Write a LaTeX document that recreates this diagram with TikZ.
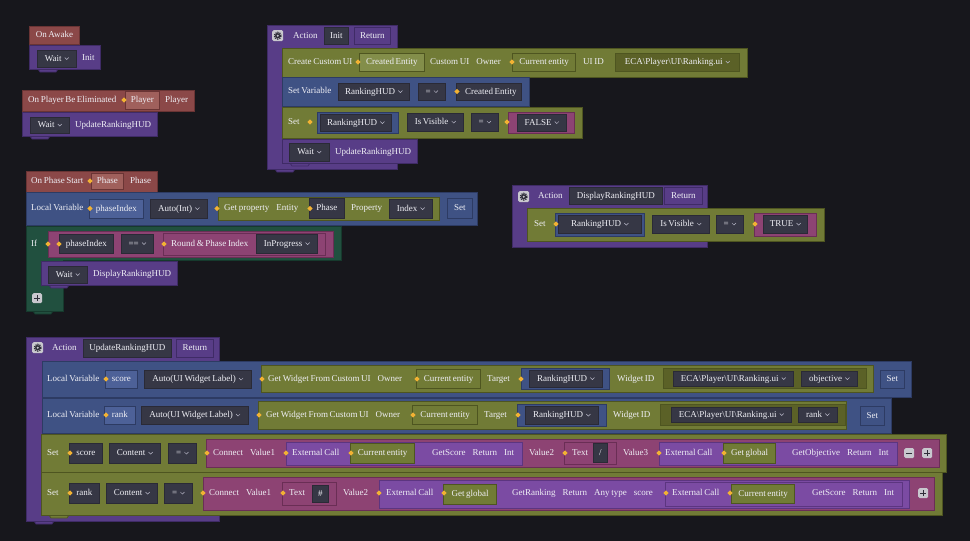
\documentclass[tikz,border=0pt]{standalone}
\usepackage{fontspec}
\setmainfont{Liberation Serif}
\usepackage{tikz}

\definecolor{bgc}{HTML}{17171C}
\definecolor{txtc}{HTML}{EFEFF5}
\definecolor{ddc}{HTML}{B8B8C8}
\definecolor{evc}{HTML}{8B4848}
\definecolor{evb}{HTML}{6A3434}
\definecolor{evlc}{HTML}{A0605C}
\definecolor{purc}{HTML}{583D87}
\definecolor{purb}{HTML}{3F2B66}
\definecolor{dkc}{HTML}{363745}
\definecolor{dkb}{HTML}{2A2A36}
\definecolor{olvc}{HTML}{717B36}
\definecolor{olvb}{HTML}{4E5520}
\definecolor{olvlc}{HTML}{838E4A}
\definecolor{olvdc}{HTML}{5B6127}
\definecolor{bluc}{HTML}{3F5284}
\definecolor{blub}{HTML}{2D3B63}
\definecolor{blulc}{HTML}{4D6198}
\definecolor{grnc}{HTML}{21503F}
\definecolor{grnb}{HTML}{163A2D}
\definecolor{magc}{HTML}{8D4373}
\definecolor{magb}{HTML}{6A2E55}
\definecolor{xcc}{HTML}{7B4BA3}
\definecolor{xcb}{HTML}{5C3580}
\definecolor{pinc}{HTML}{F2B233}
\definecolor{icoc}{HTML}{C8C8CE}
\definecolor{icod}{HTML}{2E2E38}

\newcommand\lab{\fontsize{9}{10}\selectfont\spaceskip=1.6pt\relax}
\newcommand\gap{\hspace{7pt}}
\newcommand\ddn{\hspace{3pt}\tikz[baseline=0pt]\draw[line width=.5pt,ddc] (0,3.6pt)--(2pt,1.6pt)--(4pt,3.6pt);}
\newcommand\bx[7]{\node[#1,anchor=north west,minimum width={(#5)-(#3)},minimum height={(#6)-(#4)}] (#2) at (#3,#4) {#7};}
\newcommand\lbl[4]{\node[txt] (#1) at (#2,#3) {#4};}
\newcommand\pin[2]{\fill[pinc] (#1,#2) +(-2.6,0) -- +(0,-2.6) -- +(2.6,0) -- +(0,2.6) -- cycle;}
\newcommand\btab[3]{\filldraw[#1] (#2,#3) -- ++(2,3) -- ++(16,0) -- ++(2,-3) -- cycle;}
\newcommand\gearico[3]{\node[ico,minimum size=11pt] (#1) at (#2,#3) {};
  \fill[icod] (#1.center) circle (2.6pt);
  \draw[icod,line width=1.4pt,dash pattern=on 1.1pt off 1pt] (#1.center) circle (3.3pt);
  \fill[icoc] (#1.center) circle (1.1pt);}
\newcommand\plusico[3]{\node[ico,minimum size=10pt] (#1) at (#2,#3) {};
  \draw[icod,line width=1.4pt] ([xshift=-3pt]#1.center) -- ([xshift=3pt]#1.center)
    ([yshift=-3pt]#1.center) -- ([yshift=3pt]#1.center);}
\newcommand\minusico[3]{\node[ico,minimum size=10pt] (#1) at (#2,#3) {};
  \draw[icod,line width=1.4pt] ([xshift=-3pt]#1.center) -- ([xshift=3pt]#1.center);}

\begin{document}
\begin{tikzpicture}[
  x=1pt,y=-1pt,
  bb/.style={inner sep=0,line width=.8pt,text=txtc,font=\lab,text height=6.3pt,text depth=1.8pt},
  txt/.style={anchor=west,inner sep=0,text=txtc,font=\lab,text height=6.3pt,text depth=1.8pt},
  ev/.style={bb,fill=evc,draw=evb},
  evl/.style={bb,fill=evlc,draw=evb},
  pur/.style={bb,fill=purc,draw=purb},
  fld/.style={bb,fill=dkc,draw=dkb},
  olv/.style={bb,fill=olvc,draw=olvb},
  olvk/.style={bb,fill=olvc,draw=olvb,line width=1.3pt},
  olvl/.style={bb,fill=olvlc,draw=olvb},
  olvd/.style={bb,fill=olvdc,draw=olvb},
  blu/.style={bb,fill=bluc,draw=blub},
  blul/.style={bb,fill=blulc,draw=blub},
  grn/.style={line width=.8pt,fill=grnc,draw=grnb},
  mag/.style={bb,fill=magc,draw=magb},
  xc/.style={bb,fill=xcc,draw=xcb},
  ico/.style={anchor=north west,inner sep=0,fill=icoc,rounded corners=1.5pt}
]
\fill[bgc] (0,0) rectangle (970,541);
\useasboundingbox (0,0) rectangle (970,541);

\bx{ev}{awake}{29}{26}{79}{44}{On Awake}
\btab{pur}{38}{69}
\bx{pur}{waitA}{29}{45}{100}{69}{}
\bx{fld}{waitAd}{37}{50}{76}{67}{Wait\ddn}
\lbl{initA}{82}{58.5}{Init}

\bx{ev}{elim}{22}{90}{194}{111}{}
\lbl{elimT}{28}{100.5}{On Player Be Eliminated}
\bx{evl}{elimP}{125}{91}{159}{109}{Player}
\pin{124}{100}
\lbl{elimV}{165}{100.5}{Player}
\btab{pur}{30}{136}
\bx{pur}{waitB}{22}{112}{157}{136}{}
\bx{fld}{waitBd}{30}{117}{69}{133}{Wait\ddn}
\lbl{waitBt}{75}{125}{UpdateRankingHUD}

\btab{pur}{275}{169}
\bx{pur}{actI}{267}{25}{397}{169}{}
\gearico{gearI}{272}{30}
\lbl{actIt}{293}{36}{Action}
\bx{fld}{actIn}{324}{27}{348}{44}{Init}
\bx{pur}{actIr}{354}{27}{390}{44}{Return}
\bx{olv}{cui}{282}{48}{747}{77}{}
\lbl{cuiT}{288}{62.5}{Create Custom UI}
\bx{olvl}{cuiE}{359}{53}{424}{71}{Created Entity}
\pin{358}{62}
\lbl{cuiO}{430}{62.5}{Custom UI\gap Owner}
\bx{olvk}{cuiC}{512}{53}{575}{71}{Current entity}
\pin{512}{62}
\lbl{cuiU}{583}{62.5}{UI ID}
\bx{olvd}{cuiP}{615}{53}{739}{71}{ECA\textbackslash Player\textbackslash UI\textbackslash Ranking.ui\ddn}
\bx{blu}{setv}{282}{77}{529}{106}{}
\lbl{setvT}{288}{91.5}{Set Variable}
\bx{fld}{setvN}{338}{83}{409}{100}{RankingHUD\ddn}
\bx{fld}{setvO}{418}{83}{445}{100}{=\ddn}
\bx{fld}{setvE}{456}{83}{521}{100}{\hspace{4pt}Created Entity}
\pin{457}{91.5}
\bx{olv}{setI}{282}{107}{582}{138}{}
\lbl{setIT}{288}{122.5}{Set}
\bx{blu}{setIv}{317}{112}{398}{133}{}
\bx{fld}{setIn}{320}{114}{391}{131}{RankingHUD\ddn}
\pin{310}{122}
\bx{fld}{setIp}{407}{113}{463}{131}{Is Visible\ddn}
\bx{fld}{setIo}{471}{113}{498}{131}{=\ddn}
\bx{mag}{setIb}{508}{112}{574}{133}{}
\bx{fld}{setIf}{517}{114}{566}{131}{FALSE\ddn}
\pin{507}{122}
\btab{pur}{290}{163}
\bx{pur}{waitC}{282}{139}{417}{163}{}
\bx{fld}{waitCd}{289}{143}{329}{161}{Wait\ddn}
\lbl{waitCt}{335}{152}{UpdateRankingHUD}

\bx{ev}{phs}{26}{171}{157}{192}{}
\lbl{phsT}{31}{181.5}{On Phase Start}
\bx{evl}{phsP}{91}{173}{123}{189}{Phase}
\pin{90}{181}
\lbl{phsV}{130}{181.5}{Phase}
\bx{blu}{lvp}{26}{192}{477}{225}{}
\lbl{lvpT}{31}{208.5}{Local Variable}
\bx{blul}{lvpN}{89}{199}{143}{218}{phaseIndex}
\pin{90}{208.5}
\bx{fld}{lvpA}{150}{199}{207}{218}{Auto(Int)\ddn}
\bx{olv}{gp}{218}{197}{439}{220}{}
\pin{217}{208.5}
\lbl{gpT}{224}{208.5}{Get property\gap Entity}
\bx{fld}{gpE}{309}{198}{344}{218}{Phase}
\pin{310}{208.5}
\lbl{gpP}{351}{208.5}{Property}
\bx{fld}{gpI}{389}{199}{432}{218}{Index\ddn}
\bx{blu}{lvpS}{447}{198}{472}{218}{Set}
\btab{grn}{33}{311}
\filldraw[grn] (26,226) -- (341,226) -- (341,260) -- (63,260) -- (63,311) -- (26,311) -- cycle;
\lbl{ifT}{31}{244}{If}
\bx{mag}{ifc}{48}{231}{333}{257}{}
\pin{48}{244}
\bx{fld}{ifA}{59}{234}{113}{253}{phaseIndex}
\pin{59}{244}
\bx{fld}{ifO}{121}{234}{153}{253}{==\ddn}
\bx{mag}{ifR}{163}{233}{325}{255}{}
\pin{164}{244}
\lbl{ifRT}{171}{244}{Round \& Phase Index}
\bx{fld}{ifRs}{256}{234}{317}{253}{InProgress\ddn}
\btab{pur}{49}{285}
\bx{pur}{waitD}{41}{261}{177}{285}{}
\bx{fld}{waitDd}{48}{266}{87}{283}{Wait\ddn}
\lbl{waitDt}{93}{274.5}{DisplayRankingHUD}
\plusico{ifPl}{32}{293}

\bx{pur}{actD}{512}{185}{707}{247}{}
\gearico{gearD}{518}{191}
\lbl{actDt}{538}{196}{Action}
\bx{fld}{actDn}{569}{187}{662}{204}{DisplayRankingHUD}
\bx{pur}{actDr}{664}{187}{702}{204}{Return}
\bx{olv}{setD}{527}{208}{824}{241}{}
\lbl{setDT}{534}{224.5}{Set}
\bx{blu}{setDv}{555}{213}{644}{236}{}
\bx{fld}{setDn}{558}{215}{641}{233}{RankingHUD\ddn}
\pin{556}{224}
\bx{fld}{setDp}{652}{215}{709}{233}{Is Visible\ddn}
\bx{fld}{setDo}{716}{215}{743}{233}{=\ddn}
\bx{mag}{setDb}{754}{213}{816}{236}{}
\bx{fld}{setDt}{763}{215}{807}{233}{TRUE\ddn}
\pin{755}{224}

\btab{pur}{34}{521}
\bx{pur}{actU}{26}{337}{219}{521}{}
\gearico{gearU}{32}{342}
\lbl{actUt}{52}{348}{Action}
\bx{fld}{actUn}{83}{339}{171}{357}{UpdateRankingHUD}
\bx{pur}{actUr}{176}{339}{213}{357}{Return}
\bx{blu}{lvs}{42}{361}{911}{397}{}
\lbl{lvsT}{47}{379}{Local Variable}
\bx{blul}{lvsN}{105}{370}{137}{388}{score}
\pin{106}{379}
\bx{fld}{lvsA}{144}{370}{251}{388}{Auto(UI Widget Label)\ddn}
\bx{olv}{gws}{261}{365}{873}{392}{}
\pin{262}{379}
\lbl{gwsT}{268}{379}{Get Widget From Custom UI\gap Owner}
\bx{olvk}{gwsC}{416}{369}{480}{388}{Current entity}
\pin{417}{379}
\lbl{gwsG}{487}{379}{Target}
\bx{blu}{gwsV}{521}{368}{609}{389}{}
\bx{fld}{gwsN}{529}{370}{602}{387}{RankingHUD\ddn}
\pin{521}{379}
\lbl{gwsW}{617}{379}{Widget ID}
\bx{olvd}{gwsI}{663}{368}{866}{388}{}
\bx{fld}{gwsP}{673}{371}{793}{386}{ECA\textbackslash Player\textbackslash UI\textbackslash Ranking.ui\ddn}
\bx{fld}{gwsO}{801}{371}{857}{386}{objective\ddn}
\bx{blu}{lvsS}{880}{370}{904}{388}{Set}

\bx{blu}{lvr}{42}{398}{891}{433}{}
\lbl{lvrT}{47}{415}{Local Variable}
\bx{blul}{lvrN}{104}{406}{135}{424}{rank}
\pin{106}{415}
\bx{fld}{lvrA}{141}{406}{248}{424}{Auto(UI Widget Label)\ddn}
\bx{olv}{gwr}{258}{401}{846}{429}{}
\pin{259}{415}
\lbl{gwrT}{266}{415}{Get Widget From Custom UI\gap Owner}
\bx{olvk}{gwrC}{412}{405}{477}{424}{Current entity}
\pin{413}{415}
\lbl{gwrG}{484}{415}{Target}
\bx{blu}{gwrV}{517}{404}{606}{426}{}
\bx{fld}{gwrN}{525}{406}{598}{424}{RankingHUD\ddn}
\pin{518}{415}
\lbl{gwrW}{613}{415}{Widget ID}
\bx{olvd}{gwrI}{660}{404}{845}{425}{}
\bx{fld}{gwrP}{671}{407}{791}{422}{ECA\textbackslash Player\textbackslash UI\textbackslash Ranking.ui\ddn}
\bx{fld}{gwrO}{798}{407}{837}{422}{rank\ddn}
\bx{blu}{lvrS}{860}{406}{884}{425}{Set}

\bx{olv}{sts}{41}{434}{946}{472}{}
\lbl{stsT}{47}{453}{Set}
\bx{fld}{stsN}{69}{443}{102}{463}{score}
\pin{70}{453}
\bx{fld}{stsC}{109}{443}{160}{463}{Content\ddn}
\bx{fld}{stsO}{168}{443}{196}{463}{=\ddn}
\bx{mag}{cns}{206}{439}{939}{467}{}
\pin{207}{453}
\lbl{cnsT}{213}{453}{Connect\gap Value1}
\bx{xc}{cnsX}{286}{442}{522}{465}{}
\pin{286}{453}
\lbl{cnsXT}{292}{453}{External Call}
\bx{olvk}{cnsXC}{350}{443}{414}{463}{Current entity}
\pin{351}{453}
\lbl{cnsXR}{432}{453}{GetScore\gap Return\gap Int}
\lbl{cnsV2}{529}{453}{Value2}
\bx{mag}{cnsTx}{564}{442}{616}{464}{}
\pin{565}{453}
\lbl{cnsTxT}{572}{453}{Text}
\bx{fld}{cnsTxV}{593}{443}{607}{462}{/}
\lbl{cnsV3}{623}{453}{Value3}
\bx{xc}{cnsY}{659}{442}{897}{465}{}
\pin{659}{453}
\lbl{cnsYT}{665}{453}{External Call}
\bx{olvk}{cnsYG}{723}{443}{775}{463}{Get global}
\pin{724}{453}
\lbl{cnsYR}{792}{453}{GetObjective\gap Return\gap Int}
\minusico{cnsM}{904}{448}
\plusico{cnsP}{922}{448}

\btab{olv}{49}{515}
\bx{olv}{str}{41}{472}{942}{515}{}
\lbl{strT}{47}{493}{Set}
\bx{fld}{strN}{69}{483}{99}{503}{rank}
\pin{70}{493}
\bx{fld}{strC}{106}{483}{157}{503}{Content\ddn}
\bx{fld}{strO}{164}{483}{192}{503}{=\ddn}
\bx{mag}{cnr}{203}{477}{934}{510}{}
\pin{203}{493}
\lbl{cnrT}{209}{493}{Connect\gap Value1}
\bx{mag}{cnrTx}{282}{482}{336}{505}{}
\pin{283}{493}
\lbl{cnrTxT}{289}{493}{Text}
\bx{fld}{cnrTxV}{312}{485}{328}{502}{\#}
\lbl{cnrV2}{343}{493}{Value2}
\bx{xc}{cnrX}{379}{480}{909}{508}{}
\pin{379}{493}
\lbl{cnrXT}{386}{493}{External Call}
\bx{olvk}{cnrXG}{443}{484}{496}{504}{Get global}
\pin{444}{493}
\lbl{cnrXR}{512}{493}{GetRanking\gap Return\gap Any type\gap score}
\bx{xc}{cnrY}{665}{482}{902}{506}{}
\pin{666}{493}
\lbl{cnrYT}{672}{493}{External Call}
\bx{olvk}{cnrYC}{731}{484}{794}{503}{Current entity}
\pin{730}{493}
\lbl{cnrYR}{812}{493}{GetScore\gap Return\gap Int}
\plusico{cnrP}{918}{488}
\end{tikzpicture}
\end{document}
